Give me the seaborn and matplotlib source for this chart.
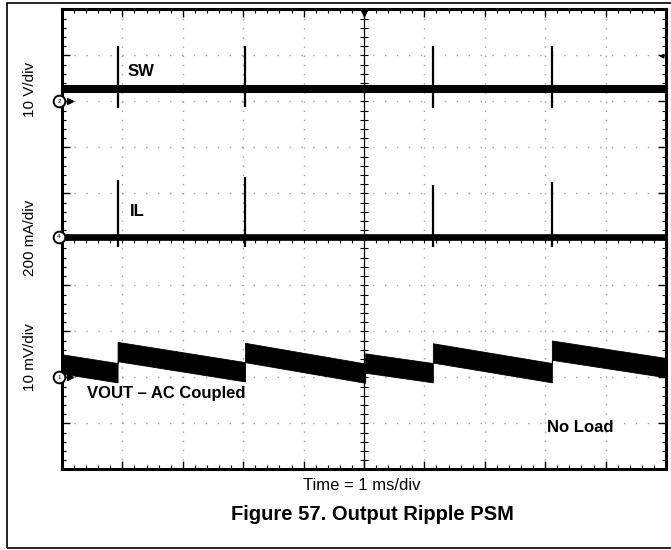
"""
Scope capture: output ripple in PSM (SW, IL, VOUT AC coupled), no load
"""
import numpy as np
import matplotlib
matplotlib.use("Agg")
import matplotlib.pyplot as plt
from matplotlib.patches import Rectangle
import seaborn as sns

# time axis in ms (1 ms/div), vertical position in screen divisions (0..10)
pulse_ms = [0.92, 3.03, 6.14, 8.11]

# SW channel (10 V/div), ground marker at 8 div
sw_ground = 8.0
sw_level = 8.27
sw_spike_top = [9.20, 9.20, 9.20, 9.20]
sw_spike_bottom = [7.85, 7.87, 7.85, 7.85]

# IL channel (200 mA/div), ground marker at 5.05 div
il_ground = 5.05
il_level = 5.05
il_spike_top = [6.29, 6.36, 6.18, 6.25]
il_spike_bottom = [4.84, 4.84, 4.84, 4.84]

# VOUT AC coupled (10 mV/div), ground marker at 2 div; centre of the noisy band
vout_ground = 2.0
vout_t = [0.0, 0.92, 0.92, 3.03, 3.03, 5.02, 5.02, 6.14, 6.14, 8.11, 8.11, 10.0]
vout_mid = [2.29, 2.10, 2.56, 2.12, 2.54, 2.09, 2.31, 2.10, 2.53, 2.10, 2.59, 2.21]
vout_noise = 0.21  # half height of the noise band, div

W, H = 671, 550

sns.set_style("white")
plt.rcParams["font.family"] = ["Liberation Sans", "DejaVu Sans"]
plt.rcParams["text.color"] = "black"

fig = plt.figure(figsize=(W / 100, H / 100), dpi=100)
ax = fig.add_axes([62 / W, 1 - 469.3 / H, (666 - 62) / W, (469.3 - 9.3) / H])
ax.set_xlim(0, 10)
ax.set_ylim(0, 10)

# graticule
ax.set_xticks(np.arange(0, 11, 1))
ax.set_yticks(np.arange(0, 11, 1))
ax.set_xticks(np.arange(0, 10.01, 0.2), minor=True)
ax.set_yticks(np.arange(0, 10.01, 0.2), minor=True)
ax.set_xticklabels([])
ax.set_yticklabels([])
ax.tick_params(which="both", direction="in", top=True, right=True,
               bottom=True, left=True, color="black")
ax.tick_params(which="major", length=6, width=1.0)
ax.tick_params(which="minor", length=3, width=0.8)
ax.xaxis.grid(True, which="major", color="#a0a0a0", linewidth=1.0,
              linestyle=(0, (1.0, 5.6)))
ax.yaxis.grid(True, which="major", color="#a0a0a0", linewidth=1.0,
              linestyle=(0, (1.0, 7.6)))
for sp in ax.spines.values():
    sp.set_linewidth(2.2)
    sp.set_color("black")

# centre cross with small ticks
ax.axvline(5, color="black", lw=0.9, zorder=2)
ax.axhline(5, color="black", lw=0.9, zorder=2)
fine = np.arange(0.2, 10, 0.2)
ax.plot(np.full(fine.size, 5.0), fine, ls="none", marker="_", ms=6,
        mew=0.8, color="black", zorder=2)
ax.plot(fine, np.full(fine.size, 5.0), ls="none", marker="|", ms=6,
        mew=0.8, color="black", zorder=2)

# SW trace
sns.lineplot(x=[0, 10], y=[sw_level, sw_level], ax=ax, color="black",
             linewidth=5.8, solid_capstyle="butt", zorder=4)
ax.vlines(pulse_ms, sw_spike_bottom, sw_spike_top, color="black",
          lw=1.6, zorder=4)

# IL trace
sns.lineplot(x=[0, 10], y=[il_level, il_level], ax=ax, color="black",
             linewidth=4.8, solid_capstyle="butt", zorder=4)
ax.vlines(pulse_ms, il_spike_bottom, il_spike_top, color="black",
          lw=1.6, zorder=4)

# VOUT trace (noisy band)
vt = np.array(vout_t)
vm = np.array(vout_mid)
ax.fill_between(vt, vm - vout_noise, vm + vout_noise, color="black",
                lw=0.6, edgecolor="black", zorder=4)

# channel ground markers
for lvl, num in [(sw_ground, "2"), (il_ground, "4"), (vout_ground, "1")]:
    ax.plot(-0.05, lvl, marker="o", ms=8.4, mfc="white", mec="black",
            mew=1.4, clip_on=False, zorder=6)
    ax.text(-0.05, lvl, num, fontsize=4.5, ha="center", va="center",
            clip_on=False, zorder=7)
    ax.plot(0.14, lvl, marker=">", ms=4, color="black", clip_on=False,
            zorder=6)

# trigger position and level markers
ax.plot(5, 9.93, marker="v", ms=5, color="black", clip_on=False, zorder=6)
ax.annotate("", xy=(9.84, 8.98), xytext=(9.98, 8.98),
            arrowprops=dict(arrowstyle="-|>", color="black", lw=0.9,
                            mutation_scale=6), annotation_clip=False)

# trace labels
ax.text(1.08, 8.64, "SW", fontsize=12, fontweight="bold", ha="left",
        va="center", zorder=7)
ax.text(1.13, 5.60, "IL", fontsize=12, fontweight="bold", ha="left",
        va="center", zorder=7)
ax.text(0.41, 1.64, "VOUT \u2013 AC Coupled", fontsize=12, fontweight="bold",
        ha="left", va="center", zorder=7)
ax.text(8.03, 0.90, "No Load", fontsize=12, fontweight="bold", ha="left",
        va="center", zorder=7)

# scale labels
fig.text(30 / W, 1 - 89 / H, "10 V/div", rotation=90, fontsize=11,
         ha="center", va="center")
fig.text(30 / W, 1 - 238 / H, "200 mA/div", rotation=90, fontsize=11,
         ha="center", va="center")
fig.text(30 / W, 1 - 357 / H, "10 mV/div", rotation=90, fontsize=11,
         ha="center", va="center")
fig.text(362 / W, 1 - 486 / H, "Time = 1 ms/div", fontsize=12,
         ha="center", va="center")
fig.text(372 / W, 1 - 514 / H, "Figure 57. Output Ripple PSM", fontsize=14.5,
         fontweight="bold", ha="center", va="center")

# outer frame of the figure
fig.patches.append(Rectangle((7 / W, 2 / H), (W + 5) / W, (H - 4.5) / H,
                             transform=fig.transFigure, fill=False,
                             ec="black", lw=1.2))

fig.savefig("out.png", dpi=100)
